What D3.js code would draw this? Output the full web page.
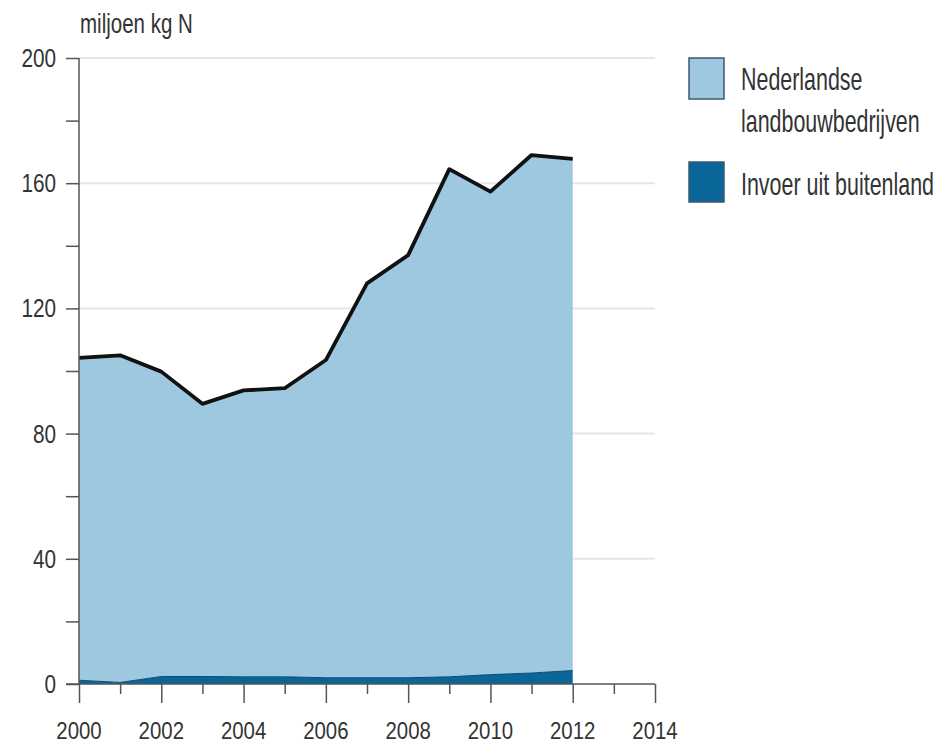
<!DOCTYPE html>
<html>
<head>
    <meta charset="UTF-8">
    <title>Stikstof</title>
    <script src="https://cdnjs.cloudflare.com/ajax/libs/d3/7.8.5/d3.min.js"></script>
    <style>
        body { margin: 0; background: #fff; }
        text { font-family: "Liberation Sans", Arial, sans-serif; fill: #333; }
    </style>
</head>
<body>
<svg id="chart" width="939" height="744"></svg>
<script>
// data
var years = [2000, 2001, 2002, 2003, 2004, 2005, 2006, 2007, 2008, 2009, 2010, 2011, 2012];
var invoer = [1.2, 0.5, 2.4, 2.4, 2.3, 2.3, 2.0, 2.0, 2.0, 2.3, 3.0, 3.5, 4.3];
var nederlandse = [103.0, 104.5, 97.4, 87.1, 91.5, 92.2, 101.5, 126.0, 135.0, 162.2, 154.3, 165.5, 163.5];
var yTicks = [0, 40, 80, 120, 160, 200];
var xTicks = [2000, 2002, 2004, 2006, 2008, 2010, 2012, 2014];
var seriesNames = ["Invoer uit buitenland", "Nederlandse landbouwbedrijven"];
var seriesColors = ["#0a6599", "#9ec8e0"];

var svg = d3.select("#chart");
var x = d3.scaleLinear().domain([2000, 2014]).range([79, 655]);
var y = d3.scaleLinear().domain([0, 200]).range([684, 58]);

// the original font is a narrow one, so squeeze Liberation Sans horizontally
function addText(parent, tx, ty, str, size, sx, anchor) {
    return parent.append("text")
        .attr("transform", "translate(" + tx + "," + ty + ") scale(" + sx + ",1)")
        .attr("font-size", size)
        .attr("text-anchor", anchor || "start")
        .text(str);
}

var rows = years.map(function (yr, i) {
    return {year: yr, invoer: invoer[i], nl: nederlandse[i]};
});
var stacked = d3.stack().keys(["invoer", "nl"])(rows);

// gridlines
svg.append("g")
    .selectAll("line")
    .data(yTicks.filter(function (d) { return d > 0; }))
    .enter().append("line")
    .attr("x1", x(2000)).attr("x2", x(2014))
    .attr("y1", function (d) { return y(d); })
    .attr("y2", function (d) { return y(d); })
    .attr("stroke", "#e6e6e6").attr("stroke-width", 2);

var area = d3.area()
    .x(function (d) { return x(d.data.year); })
    .y0(function (d) { return y(d[0]); })
    .y1(function (d) { return y(d[1]); });

svg.append("g")
    .selectAll("path")
    .data(stacked)
    .enter().append("path")
    .attr("d", area)
    .attr("fill", function (d, i) { return seriesColors[i]; });

// thin edge on the import band
svg.append("path")
    .datum(stacked[0])
    .attr("d", d3.line().x(function (d) { return x(d.data.year); }).y(function (d) { return y(d[1]); }))
    .attr("fill", "none").attr("stroke", "#0b4c70").attr("stroke-width", 1);

// total line
svg.append("path")
    .datum(stacked[1])
    .attr("d", d3.line().x(function (d) { return x(d.data.year); }).y(function (d) { return y(d[1]); }))
    .attr("fill", "none").attr("stroke", "#111").attr("stroke-width", 3.8)
    .attr("stroke-linejoin", "round");

// y axis
var yAxis = d3.axisLeft(y).tickValues(d3.range(0, 201, 20)).tickSize(13).tickFormat("");
var gy = svg.append("g").attr("transform", "translate(" + x(2000) + ",0)").call(yAxis);
gy.select(".domain").attr("stroke", "#555").attr("stroke-width", 1.5).attr("d", "M0," + y(200) + "V" + y(0));
gy.selectAll(".tick line").attr("stroke", "#555").attr("stroke-width", 1.5);

var gyl = svg.append("g");
yTicks.forEach(function (d) {
    addText(gyl, 56, y(d) + 9, d, 25, 0.83, "end");
});

// x axis
var xAxis = d3.axisBottom(x).tickValues(d3.range(2000, 2015, 1)).tickSize(10).tickFormat("");
var gx = svg.append("g").attr("transform", "translate(0," + y(0) + ")").call(xAxis);
gx.select(".domain").attr("stroke", "#555").attr("stroke-width", 1.5).attr("d", "M66,0H" + x(2014));
gx.selectAll(".tick line")
    .attr("stroke", "#555").attr("stroke-width", 1.5)
    .attr("y2", function (d) { return d % 2 === 0 ? 19 : 10; });

var gxl = svg.append("g");
xTicks.forEach(function (d) {
    addText(gxl, x(d), 739, d, 24, 0.85, "middle");
});

addText(svg, 80, 33, "miljoen kg N", 27, 0.76);

// legend
var legend = [
    {color: seriesColors[1], lines: ["Nederlandse", "landbouwbedrijven"], top: 58, h: 41, base: 90},
    {color: seriesColors[0], lines: [seriesNames[0]], top: 162, h: 40, base: 195}
];
legend.forEach(function (d) {
    svg.append("rect")
        .attr("x", 689).attr("y", d.top)
        .attr("width", 35).attr("height", d.h)
        .attr("fill", d.color)
        .attr("stroke", "#3a5a6e").attr("stroke-width", 1.5);
    d.lines.forEach(function (t, i) {
        addText(svg, 741, d.base + i * 42, t, 32, 0.67);
    });
});
</script>
</body>
</html>
